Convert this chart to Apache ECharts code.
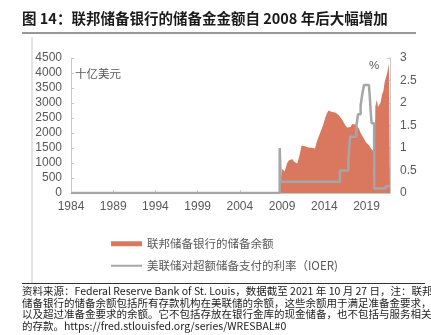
<!DOCTYPE html>
<html><head><meta charset="utf-8">
<script src="https://cdn.jsdelivr.net/npm/echarts@6/dist/echarts.min.js"></script>
<style>html,body{margin:0;padding:0;background:#fff}#c{width:431px;height:335px}</style>
</head><body><div id="c"></div>
<script>
// Reserve balances with Federal Reserve Banks (billions USD)
const reserveDates = [1984, 1986, 1988, 1990, 1992, 1994, 1996, 1998, 2000, 2002, 2004, 2006, 2008.7,
  2008.76, 2008.82, 2008.9, 2009.0, 2009.15, 2009.3, 2009.45, 2009.6, 2009.8, 2010.0, 2010.2, 2010.4,
  2010.6, 2010.8, 2010.95, 2011.1, 2011.3, 2011.5, 2011.7, 2011.9, 2012.1, 2012.3, 2012.5, 2012.7,
  2012.9, 2013.1, 2013.3, 2013.5, 2013.7, 2013.9, 2014.1, 2014.3, 2014.5, 2014.7, 2014.9, 2015.1,
  2015.3, 2015.5, 2015.7, 2015.9, 2016.1, 2016.3, 2016.5, 2016.7, 2016.9, 2017.1, 2017.3, 2017.5,
  2017.7, 2017.9, 2018.1, 2018.3, 2018.5, 2018.7, 2018.9, 2019.1, 2019.3, 2019.5, 2019.7, 2019.85,
  2019.97, 2020.05, 2020.2, 2020.35, 2020.5, 2020.65, 2020.85, 2021.0, 2021.15, 2021.3, 2021.45,
  2021.55, 2021.65, 2021.78];
const reserveValues = [25, 30, 35, 30, 28, 25, 20, 12, 10, 12, 15, 12, 15,
  300, 650, 560, 800, 760, 720, 850, 1000, 1080, 1100, 1130, 1050,
  1020, 980, 1020, 1300, 1580, 1620, 1560, 1580, 1520, 1490, 1510, 1470,
  1480, 1700, 1850, 2000, 2150, 2300, 2500, 2650, 2750, 2780, 2700, 2720,
  2680, 2650, 2600, 2550, 2450, 2350, 2250, 2180, 2150, 2200, 2300, 2320,
  2280, 2300, 2150, 2000, 1900, 1820, 1700, 1640, 1580, 1500, 1420, 1400,
  1450, 2900, 3100, 2870, 2850, 3000, 3300, 3400, 3700, 3850, 4000,
  4150, 4300, 4250];
// Interest rate on excess reserves (%): change dates and the rate that holds from each date
const ioerDates = [1984, 2008.72, 2008.84, 2015.85, 2016.85, 2016.95, 2017.05, 2017.8, 2018.0, 2018.3,
  2018.5, 2018.7, 2019.3, 2019.4, 2019.5, 2019.6, 2019.9, 2021.25];
const ioerRates = [0, 1.0, 0.25, 0.5, 0.75, 1.0, 1.25, 1.5, 1.75, 1.95,
  2.2, 2.4, 2.35, 2.1, 1.8, 1.55, 0.1, 0.15];
const ioerEnd = 2021.78;
const xTickYears = [1984, 1989, 1994, 1999, 2004, 2009, 2014, 2019];
const leftTicks = [0, 500, 1000, 1500, 2000, 2500, 3000, 3500, 4000, 4500];
const rightTicks = [0, 0.5, 1, 1.5, 2, 2.5, 3];
const seriesNames = ['联邦储备银行的储备余额', '美联储对超额储备支付的利率（IOER)'];
const titleText = '图 14：联邦储备银行的储备金金额自 2008 年后大幅增加';
const leftUnit = '十亿美元';
const rightUnit = '%';
const footerLines = [
  '资料来源：Federal Reserve Bank of St. Louis，数据截至 2021 年 10 月 27 日，注：联邦',
  '储备银行的储备余额包括所有存款机构在美联储的余额，这些余额用于满足准备金要求，',
  '以及超过准备金要求的余额。它不包括存放在银行金库的现金储备，也不包括与服务相关',
  '的存款。https://fred.stlouisfed.org/series/WRESBAL#0'
];

const CJK = "'Noto Sans CJK SC', 'Noto Sans', sans-serif";
const NUM = "'Liberation Sans', Arial, sans-serif";
const RED = '#d9775f';
const GRAY = '#a6a6a6';
const TXT = '#595959';
const AX = '#c8c8c8';

// step line: hold each rate until the next change date
const ioerPoints = [];
ioerDates.forEach((d, i) => {
  if (i > 0) ioerPoints.push([d, ioerRates[i - 1]]);
  ioerPoints.push([d, ioerRates[i]]);
});
ioerPoints.push([ioerEnd, ioerRates[ioerRates.length - 1]]);

const chart = echarts.init(document.getElementById('c'), null, {renderer: 'canvas'});

const footerGraphics = footerLines.map((t, i) => ({
  type: 'text', left: 22, top: 286 + i * 11.6,
  style: {text: t, fill: '#222', font: "10.5px " + CJK}
}));

chart.setOption({
  animation: false,
  backgroundColor: '#fff',
  grid: {left: 71, right: 41, top: 58, bottom: 142, containLabel: false, outerBoundsMode: 'none'},
  xAxis: {
    type: 'value', min: xTickYears[0], max: ioerEnd,
    axisLine: {lineStyle: {color: AX, width: 1}},
    axisTick: {inside: true, length: 3, lineStyle: {color: AX}, customValues: xTickYears},
    axisLabel: {customValues: xTickYears, color: TXT, fontFamily: NUM, fontSize: 12, margin: 8,
      formatter: v => String(v)},
    splitLine: {show: false}
  },
  yAxis: [{
    type: 'value', min: leftTicks[0], max: leftTicks[leftTicks.length - 1], interval: 500,
    axisLine: {show: true, lineStyle: {color: AX}},
    axisTick: {show: true, inside: true, length: 3, lineStyle: {color: AX}},
    axisLabel: {color: TXT, fontFamily: NUM, fontSize: 12, margin: 9, formatter: v => String(v)},
    splitLine: {show: false}
  }, {
    type: 'value', min: rightTicks[0], max: rightTicks[rightTicks.length - 1], interval: 0.5,
    position: 'right',
    axisLine: {show: true, lineStyle: {color: AX}},
    axisTick: {show: true, inside: true, length: 3, lineStyle: {color: AX}},
    axisLabel: {color: TXT, fontFamily: NUM, fontSize: 12, margin: 10, formatter: v => String(v)},
    splitLine: {show: false}
  }],
  legend: [{
    data: [{name: seriesNames[0], icon: 'rect'}],
    left: 106, top: 233, itemWidth: 31, itemHeight: 5, itemGap: 4,
    textStyle: {color: TXT, fontFamily: CJK, fontSize: 11.5}
  }, {
    data: [{name: seriesNames[1], icon: 'rect'}],
    left: 106, top: 255, itemWidth: 31, itemHeight: 2,
    textStyle: {color: TXT, fontFamily: CJK, fontSize: 11.5}
  }],
  series: [{
    name: seriesNames[0], type: 'line', yAxisIndex: 0,
    data: reserveDates.map((d, i) => [d, reserveValues[i]]),
    symbol: 'none', showSymbol: false,
    lineStyle: {width: 0, color: RED},
    itemStyle: {color: RED},
    areaStyle: {color: RED, opacity: 1},
    z: 2
  }, {
    name: seriesNames[1], type: 'line', yAxisIndex: 1,
    data: ioerPoints,
    symbol: 'none', showSymbol: false,
    lineStyle: {width: 2.5, color: GRAY},
    itemStyle: {color: GRAY},
    z: 3
  }],
  graphic: [
    {type: 'text', left: 22, top: 11, style: {text: titleText, fill: '#1a1a1a', font: "bold 14.5px " + CJK}},
    {type: 'line', shape: {x1: 22, y1: 33, x2: 416, y2: 33}, style: {stroke: '#333', lineWidth: 1}},
    {type: 'line', shape: {x1: 32, y1: 37, x2: 32, y2: 283}, style: {stroke: '#c8c8c8', lineWidth: 1}},
    {type: 'line', shape: {x1: 22, y1: 283.5, x2: 425, y2: 283.5}, style: {stroke: '#333', lineWidth: 1}},
    {type: 'text', left: 75, top: 68, style: {text: leftUnit, fill: TXT, font: "11.5px " + CJK}},
    {type: 'text', left: 369, top: 60, style: {text: rightUnit, fill: TXT, font: "11.5px " + NUM}}
  ].concat(footerGraphics)
});
</script>
</body></html>
